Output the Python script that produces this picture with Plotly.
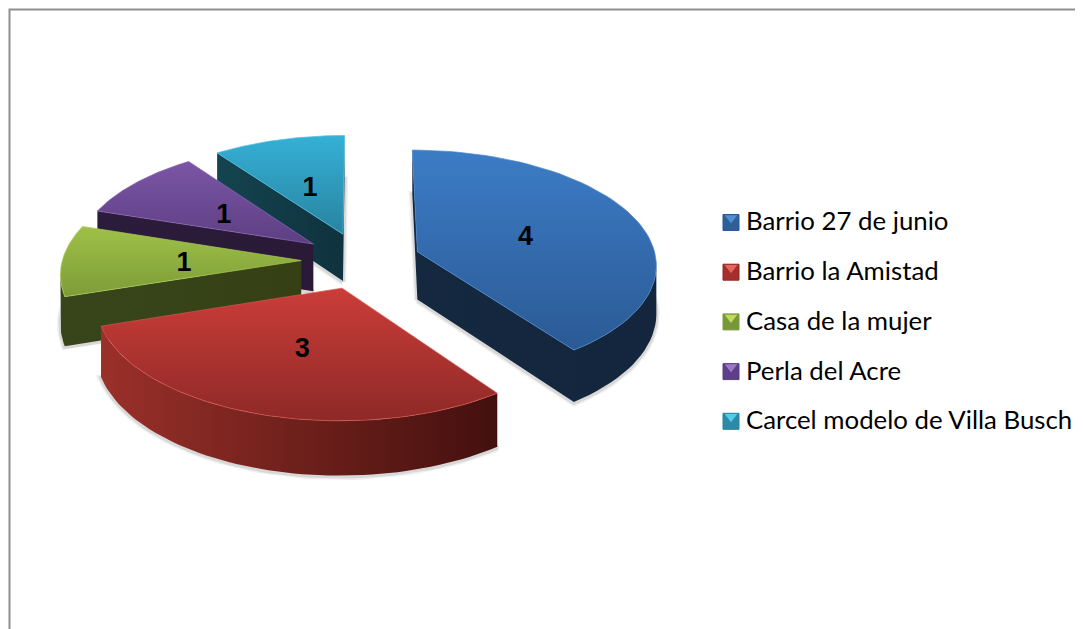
import numpy as np
import plotly.graph_objects as go

categories = ['Barrio 27 de junio', 'Barrio la Amistad', 'Casa de la mujer', 'Perla del Acre',
              'Carcel modelo de Villa Busch']
values = [4, 3, 1, 1, 1]

# top face gradient (back to front), side face gradient (left to right), bevel line
top_colors = [['#3c7cc6', '#2b5a95'], ['#cb3d39', '#8e2927'], ['#9fc147', '#7d9c38'],
              ['#7b55a6', '#5d3f82'], ['#35b0d6', '#2884a0']]
side_colors = [['#14283f', '#13263d'], ['#9a3029', '#43100e'], ['#38451a', '#364015'],
               ['#2c1c3b', '#2a1a38'], ['#14444f', '#0f323e']]
rim_colors = ['#4a86cc', '#d8554f', '#aecf58', '#8a66b5', '#4cc0e0']
legend_light = ['#4f8fd0', '#e8645e', '#c0da5c', '#9a78c6', '#4fcdea']
legend_dark = ['#2f5f98', '#a52f2c', '#78963a', '#5d3f88', '#2a8aa8']

# 3D pie projection, in page pixels
CX, CY = 361, 260.5
RX, RY = 239, 113.5
PERSPECTIVE = 0.1
EXPLODE = 0.25
DEPTH = 48
LABEL_R = 0.49
LABEL_DROP = 3.5
W, H = 1083, 629
BODY_MARGIN = 8  # the page's default body margin pushes the plot in by this much


def project(x, y, down=0.0):
    s = 1 / (1 + PERSPECTIVE * y)
    return CX + RX * x * s, CY - RY * y * s + down * s


def slice_ground(start, stop):
    """Ground-plane outline of an exploded slice: apex, then rim clockwise."""
    mid = (start + stop) / 2
    ox, oy = EXPLODE * np.sin(mid), EXPLODE * np.cos(mid)
    th = np.linspace(start, stop, 60)
    return np.r_[ox, ox + np.sin(th)], np.r_[oy, oy + np.cos(th)]


def front_chain(px):
    """Indices of the outline run that faces the viewer (moving left on screen)."""
    n = len(px)
    front = [px[(i + 1) % n] < px[i] for i in range(n)]
    first = next(i for i in range(n) if front[i] and not front[i - 1])
    chain = [first]
    i = first
    while front[i]:
        i = (i + 1) % n
        chain.append(i)
    return chain


fig = go.Figure()

angles = np.cumsum([0] + values) / sum(values) * 2 * np.pi
for i in [4, 3, 2, 0, 1]:
    gx, gy = slice_ground(angles[i], angles[i + 1])
    tx, ty = project(gx, gy)
    bx, by = project(gx, gy, DEPTH)

    # soft shadow round the base
    for width, alpha in [(7, 0.08), (4, 0.14)]:
        fig.add_trace(go.Scatter(x=np.r_[bx, bx[0]], y=np.r_[by, by[0]] + 1, mode='lines',
                                 line=dict(color=f'rgba(70,70,70,{alpha})', width=width),
                                 hoverinfo='skip'))

    chain = front_chain(tx)
    side_x = np.r_[tx[chain], bx[chain][::-1]]
    side_y = np.r_[ty[chain], by[chain][::-1]]
    fig.add_trace(go.Scatter(x=side_x, y=side_y, mode='lines', fill='toself', line=dict(width=0),
                             fillgradient=dict(type='horizontal',
                                               colorscale=[[0, side_colors[i][0]], [1, side_colors[i][1]]]),
                             hoverinfo='skip'))
    # y axis is reversed, so the gradient's 0 end is the front of the slice
    fig.add_trace(go.Scatter(x=np.r_[tx, tx[0]], y=np.r_[ty, ty[0]], mode='lines', fill='toself',
                             line=dict(color=rim_colors[i], width=0.7),
                             fillgradient=dict(type='vertical',
                                               colorscale=[[0, top_colors[i][1]], [1, top_colors[i][0]]]),
                             name=categories[i], hoverinfo='name'))

# value labels on the slices
for i, v in enumerate(values):
    mid = (angles[i] + angles[i + 1]) / 2
    lx, ly = project((EXPLODE + LABEL_R) * np.sin(mid), (EXPLODE + LABEL_R) * np.cos(mid), LABEL_DROP)
    fig.add_trace(go.Scatter(x=[lx], y=[ly], mode='text', text=[str(v)], textposition='middle center',
                             textfont=dict(family='Liberation Sans', size=27, color='black', weight='bold'),
                             hoverinfo='skip'))

# legend column
LEG_X, LEG_TEXT_X, LEG_Y, LEG_STEP = 731, 746, 222.5, 49.7
for i, name in enumerate(categories):
    y = LEG_Y + LEG_STEP * i
    fig.add_trace(go.Scatter(x=[LEG_X], y=[y], mode='markers',
                             marker=dict(symbol='square', size=16, color=legend_dark[i],
                                         line=dict(color=top_colors[i][1], width=1)),
                             hoverinfo='skip'))
    fig.add_trace(go.Scatter(x=[LEG_X], y=[y - 4.5], mode='markers',
                             marker=dict(symbol='triangle-down', size=11, color=legend_light[i]),
                             hoverinfo='skip'))
    fig.add_trace(go.Scatter(x=[LEG_TEXT_X], y=[y + 1.5], mode='text', text=[name], textposition='middle right',
                             textfont=dict(family='Lato', size=25.8, color='black'),
                             hoverinfo='skip'))

fig.update_xaxes(visible=False, range=[BODY_MARGIN, W], fixedrange=True)
fig.update_yaxes(visible=False, range=[H, BODY_MARGIN], fixedrange=True)
fig.add_shape(type='rect', x0=9.5, y0=9.5, x1=W + 20, y1=H + 20, xref='x', yref='y',
              line=dict(color='#8f8f8f', width=2), layer='below')
fig.update_layout(width=W - BODY_MARGIN, height=H - BODY_MARGIN, margin=dict(l=0, r=0, t=0, b=0), showlegend=False,
                  paper_bgcolor='white', plot_bgcolor='white')

fig.write_html("out.html")
